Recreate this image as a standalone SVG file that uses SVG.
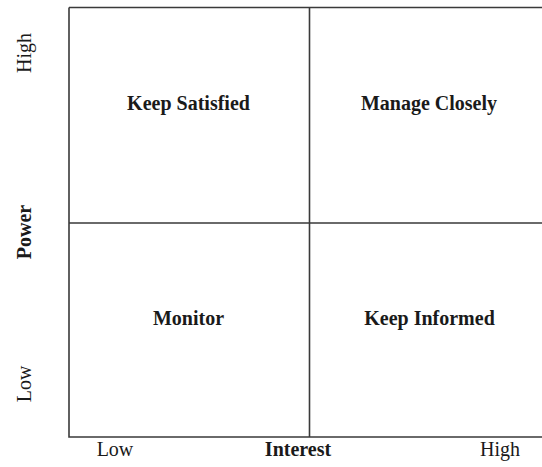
<svg xmlns="http://www.w3.org/2000/svg" width="542" height="467" viewBox="0 0 542 467">
<style>
.ln{stroke:#3a3a3a;stroke-width:1.6;fill:none}
.q{font-family:"Liberation Serif","Times New Roman",serif;font-size:20px;font-weight:bold;fill:#1a1a1a;text-anchor:middle}
.ax{font-family:"Liberation Serif","Times New Roman",serif;font-size:20px;fill:#1a1a1a;text-anchor:middle}
.axb{font-family:"Liberation Serif","Times New Roman",serif;font-size:20px;font-weight:bold;fill:#1a1a1a;text-anchor:middle}
</style>
<rect width="542" height="467" fill="#ffffff"/>
<g id="connectors">
<path class="ln" d="M69,7.5 H545 M69,7.5 V437 H545 M309.5,7.5 V437 M69,223 H545"/>
</g>
<g id="keep-satisfied"><text class="q" x="188.5" y="110">Keep Satisfied</text></g>
<g id="manage-closely"><text class="q" x="429" y="110">Manage Closely</text></g>
<g id="monitor"><text class="q" x="188.5" y="325">Monitor</text></g>
<g id="keep-informed"><text class="q" x="429.5" y="325">Keep Informed</text></g>
<g id="axis-x">
<text class="ax" x="115" y="456">Low</text>
<text class="axb" x="298" y="456">Interest</text>
<text class="ax" x="500" y="456">High</text>
</g>
<g id="axis-y">
<text class="ax" transform="translate(31,53) rotate(-90)">High</text>
<text class="axb" transform="translate(31,232) rotate(-90)">Power</text>
<text class="ax" transform="translate(31,384) rotate(-90)">Low</text>
</g>
</svg>
